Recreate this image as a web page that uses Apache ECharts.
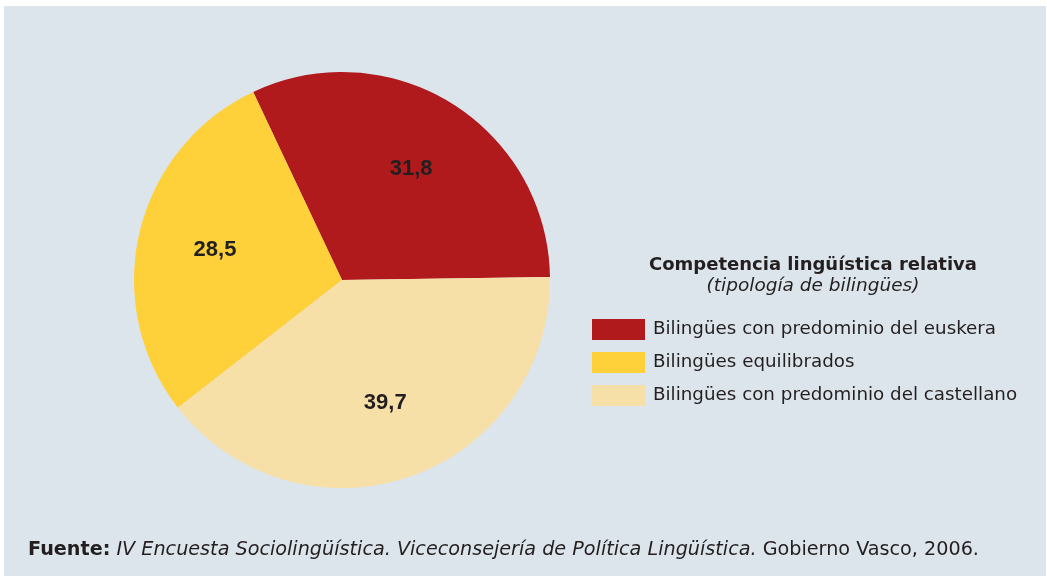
<!DOCTYPE html>
<html lang="es">
<head>
    <meta charset="UTF-8">
    <script src="https://cdn.jsdelivr.net/npm/echarts@6/dist/echarts.min.js"></script>
    <style>
        html, body { margin: 0; padding: 0; background: #ffffff; }
        #pic { width: 1047px; height: 576px; }
    </style>
    <title>Competencia lingüística relativa</title>
</head>
<body>
<div id="pic"></div>
<script type="text/javascript">
    // datos
    var categorias = [
        'Bilingües con predominio del euskera',
        'Bilingües equilibrados',
        'Bilingües con predominio del castellano'
    ];
    var valores = [31.8, 28.5, 39.7];
    var colores = ['#b01a1d', '#fed13a', '#f7dfa8'];

    var tituloLeyenda = 'Competencia lingüística relativa';
    var subtituloLeyenda = '(tipología de bilingües)';
    var fuente = ['Fuente:', ' IV Encuesta Sociolingüística. Viceconsejería de Política Lingüística.', ' Gobierno Vasco, 2006.'];

    var centro = [342, 280];
    var radio = 208;
    var fuenteTexto = 'DejaVu Sans';

    function drawPic() {
        var chartDom = document.getElementById('pic');
        var myChart = echarts.init(chartDom, null, { renderer: 'canvas' });
        var option;

        var datos = [];
        for (var i = 0; i < categorias.length; i++) {
            datos.push({ name: categorias[i], value: valores[i], itemStyle: { color: colores[i] } });
        }

        option = {
            animation: false,
            backgroundColor: '#ffffff',
            textStyle: { fontFamily: fuenteTexto },
            graphic: [
                {
                    type: 'rect', z: -10, silent: true,
                    shape: { x: 4, y: 6, width: 1042, height: 572 },
                    style: { fill: '#dde5ec' }
                },
                {
                    type: 'text', left: 28, top: 541, silent: true,
                    style: {
                        text: '{b|' + fuente[0] + '}{i|' + fuente[1] + '}{n|' + fuente[2] + '}',
                        rich: {
                            b: { fontSize: 19.2, fontWeight: 'bold', fill: '#231f20', fontFamily: fuenteTexto },
                            i: { fontSize: 19.2, fontStyle: 'italic', fill: '#231f20', fontFamily: fuenteTexto },
                            n: { fontSize: 19.2, fill: '#231f20', fontFamily: fuenteTexto }
                        }
                    }
                }
            ],
            title: {
                text: tituloLeyenda,
                subtext: subtituloLeyenda,
                left: 813,
                top: 256,
                textAlign: 'center',
                itemGap: 3,
                padding: 0,
                textStyle: { fontSize: 18, fontWeight: 'bold', color: '#231f20', fontFamily: fuenteTexto },
                subtextStyle: { fontSize: 18.5, fontStyle: 'italic', color: '#231f20', fontFamily: fuenteTexto }
            },
            legend: {
                orient: 'vertical',
                left: 592,
                top: 319,
                padding: 0,
                itemWidth: 53,
                itemHeight: 21,
                itemGap: 12,
                icon: 'rect',
                selectedMode: false,
                data: categorias,
                textStyle: { fontSize: 18.3, color: '#231f20', padding: [0, 0, 0, 3], fontFamily: fuenteTexto }
            },
            series: [
                {
                    type: 'pie',
                    center: centro,
                    radius: radio,
                    clockwise: false,
                    startAngle: 0.8,
                    silent: true,
                    data: datos,
                    label: {
                        position: 'inside',
                        fontSize: 22,
                        fontWeight: 'bold',
                        color: '#231f20',
                        fontFamily: 'Liberation Sans',
                        formatter: function (p) { return String(p.value).replace('.', ','); }
                    },
                    labelLine: { show: false },
                    // alejar las etiquetas del centro
                    labelLayout: function (p) {
                        var r = p.labelRect;
                        var lx = r.x + r.width / 2, ly = r.y + r.height / 2;
                        return { dx: (lx - centro[0]) * 0.22, dy: (ly - centro[1]) * 0.22 };
                    }
                }
            ]
        };

        option && myChart.setOption(option);
    }

    drawPic();
</script>
</body>
</html>
